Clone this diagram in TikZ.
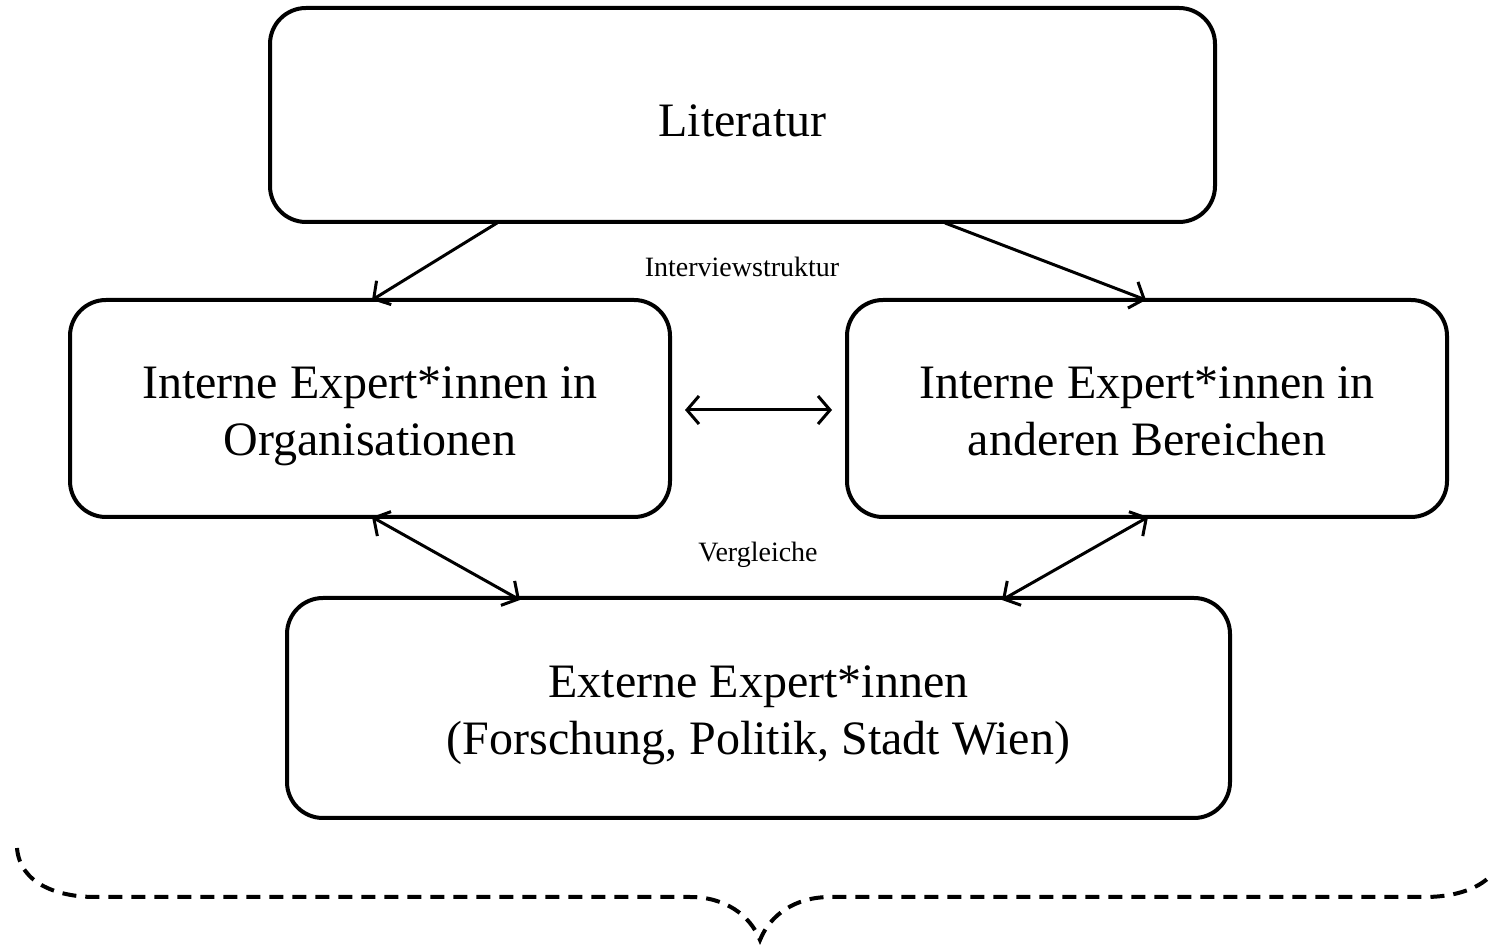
\documentclass[tikz,border=0pt]{standalone}
\usepackage{fontspec}
\setmainfont{Liberation Serif}
\usetikzlibrary{arrows.meta}
\newcommand{\topstrut}{\rule{0pt}{27pt}}
\begin{document}
\begin{tikzpicture}[x=0.5pt,y=-0.5pt,
  box/.style={draw,line width=2pt,rounded corners=18pt,align=center,inner sep=0pt,
    font=\fontsize{24}{28.5}\selectfont},
  conn/.style={line width=1.5pt,-{Straight Barb[length=6pt,width=14pt,line width=1.5pt]}},
  biconn/.style={line width=1.5pt,{Straight Barb[length=6pt,width=14pt,line width=1.5pt]}-{Straight Barb[length=6pt,width=14pt,line width=1.5pt]}},
  lbl/.style={font=\fontsize{14}{16}\selectfont},
  brace/.style={line width=2pt,dash pattern=on 7pt off 4.5pt}]
\useasboundingbox (0,0) rectangle (1489,945);
\node[box,minimum width=472.5pt,minimum height=107pt] (lit) at (742.5,115) {\rule{0pt}{30pt}Literatur\strut};
\node[box,minimum width=300pt,minimum height=108.5pt] (left) at (370,408.5) {\topstrut Interne Expert*innen in\\Organisationen\strut};
\node[box,minimum width=300pt,minimum height=108.5pt] (right) at (1147,408.5) {\topstrut Interne Expert*innen in\\anderen Bereichen\strut};
\node[box,minimum width=471.5pt,minimum height=110pt] (ext) at (758.5,708) {\topstrut Externe Expert*innen\\(Forschung, Politik, Stadt Wien)\strut};
\node[lbl] (inter) at (742,267) {Interviewstruktur};
\node[lbl] (vergl) at (758,555) {Vergleiche};
\coordinate (a1) at (497,223); \coordinate (a2) at (372,300);
\coordinate (b1) at (945,223); \coordinate (b2) at (1146,300);
\coordinate (c1) at (685,410); \coordinate (c2) at (832,410);
\coordinate (d1) at (372,517); \coordinate (d2) at (520,600);
\coordinate (e1) at (1148,517); \coordinate (e2) at (1002,600);
\draw[conn] (a1) -- (a2);
\draw[conn] (b1) -- (b2);
\draw[biconn] (c1) -- (c2);
\draw[biconn] (d1) -- (d2);
\draw[biconn] (e1) -- (e2);
\coordinate (bl) at (17,848);
\coordinate (bl2) at (95,897);
\coordinate (bm1) at (690,897);
\coordinate (tip) at (760,940);
\coordinate (bm2) at (830,897);
\coordinate (br2) at (1425,897);
\coordinate (br) at (1503,848);
\draw[brace] (bl) .. controls (20,885) and (60,897) .. (bl2) -- (bm1)
  .. controls (725,897) and (750,915) .. (tip)
  .. controls (770,915) and (795,897) .. (bm2) -- (br2)
  .. controls (1460,897) and (1500,885) .. (br);
\end{tikzpicture}
\end{document}
